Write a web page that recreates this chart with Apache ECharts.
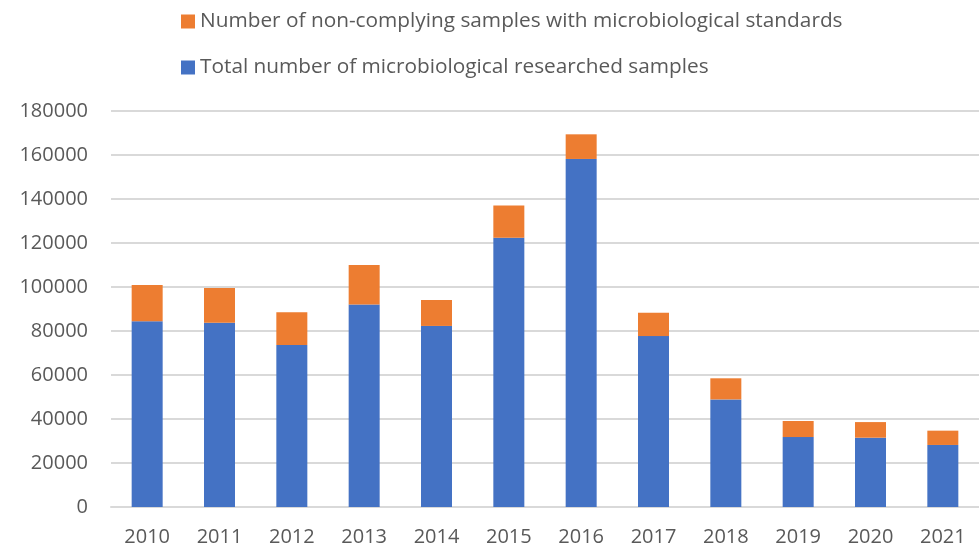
<!DOCTYPE html>
<html>
<head>
<meta charset="utf-8">
<script src="https://cdn.jsdelivr.net/npm/echarts@6/dist/echarts.min.js"></script>
<style>
html,body{margin:0;padding:0;background:#fff;}
#chart{width:979px;height:548px;}
</style>
</head>
<body>
<div id="chart"></div>
<script>
const years = ['2010','2011','2012','2013','2014','2015','2016','2017','2018','2019','2020','2021'];
const totalResearched = [84400, 83800, 73600, 92100, 82300, 122400, 158200, 77700, 48900, 31800, 31500, 28200];
const nonComplying = [16500, 15700, 14900, 17900, 11800, 14600, 11200, 10600, 9600, 7300, 7100, 6500];
const seriesNames = ['Number of non-complying samples with microbiological standards', 'Total number of microbiological researched samples'];

const FONT = 'Open Sans';
const TXT = '#595959';
const chart = echarts.init(document.getElementById('chart'), null, {renderer: 'canvas'});
const legendBase = {
  orient: 'vertical', left: 181, icon: 'rect', itemWidth: 14, itemHeight: 14, padding: 0,
  textStyle: {color: TXT, fontFamily: FONT, fontSize: 20.8, lineHeight: 14},
  selectedMode: false
};
chart.setOption({
  animation: false,
  backgroundColor: '#ffffff',
  legend: [
    Object.assign({}, legendBase, {top: 11, data: [seriesNames[0]]}),
    Object.assign({}, legendBase, {top: 57, data: [seriesNames[1]]})
  ],
  grid: {left: 111, top: 111, width: 880, height: 396, containLabel: false},
  xAxis: {
    type: 'category', data: years,
    axisLine: {lineStyle: {color: '#D9D9D9', width: 2}},
    axisTick: {show: false},
    axisLabel: {color: TXT, fontFamily: FONT, fontSize: 20, margin: 20}
  },
  yAxis: {
    type: 'value', min: 0, max: 180000, interval: 20000,
    axisLine: {show: false}, axisTick: {show: false},
    splitLine: {lineStyle: {color: '#D9D9D9', width: 2}},
    axisLabel: {color: TXT, fontFamily: FONT, fontSize: 20, margin: 23, formatter: v => String(v)}
  },
  series: [
    {name: seriesNames[1], type: 'bar', stack: 'a', data: totalResearched, barWidth: 31,
     itemStyle: {color: '#4472C4'}},
    {name: seriesNames[0], type: 'bar', stack: 'a', data: nonComplying, barWidth: 31,
     itemStyle: {color: '#ED7D31'}}
  ]
});
</script>
</body>
</html>
